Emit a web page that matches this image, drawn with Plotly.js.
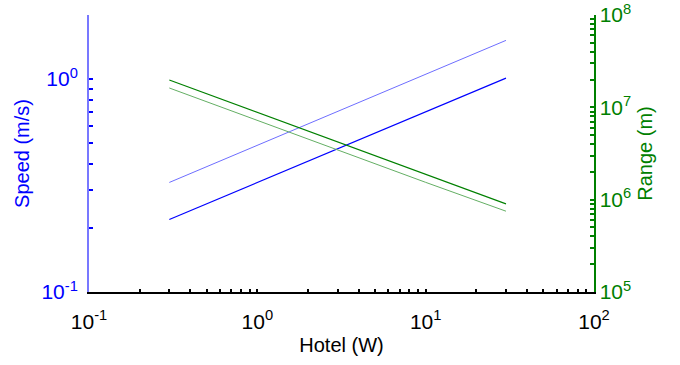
<!DOCTYPE html>
<html>
<head>
<meta charset="utf-8">
<script src="https://cdn.plot.ly/plotly-3.0.1.min.js"></script>
<style>
  html, body { margin: 0; padding: 0; background: #fff; }
  #chart { width: 680px; height: 365px; }
</style>
</head>
<body>
<div id="chart"></div>
<script>
// Data
var hotel = [0.3, 1, 3, 10, 30];                       // Hotel (W)
var speedUpper = [0.327, 0.489, 0.705, 1.05, 1.52];     // Speed (m/s), light blue
var speedLower = [0.219, 0.327, 0.471, 0.705, 1.01];    // Speed (m/s), dark blue
var rangeUpper = [1.98e7, 8.8e6, 4.2e6, 1.88e6, 9.0e5]; // Range (m), dark green
var rangeLower = [1.62e7, 7.2e6, 3.45e6, 1.54e6, 7.5e5];// Range (m), light green

// Tick values / labels
var xTickVals = [0.1,0.2,0.3,0.4,0.5,0.6,0.7,0.8,0.9,1,2,3,4,5,6,7,8,9,10,20,30,40,50,60,70,80,90,100];
var xTickText = ['10<sup>-1</sup>','','','','','','','','','10<sup>0</sup>','','','','','','','','','10<sup>1</sup>','','','','','','','','','10<sup>2</sup>'];
var ySpeedTickVals = [0.1,0.2,0.3,0.4,0.5,0.6,0.7,0.8,0.9,1,2];
var ySpeedTickText = ['10<sup>-1</sup>','','','','','','','','','10<sup>0</sup>',''];
var yRangeTickVals = [1e5,2e5,3e5,4e5,5e5,6e5,7e5,8e5,9e5,1e6,2e6,3e6,4e6,5e6,6e6,7e6,8e6,9e6,1e7,2e7,3e7,4e7,5e7,6e7,7e7,8e7,9e7,1e8];
var yRangeTickText = ['10<sup>5</sup>','','','','','','','','','10<sup>6</sup>','','','','','','','','','10<sup>7</sup>','','','','','','','','','10<sup>8</sup>'];

var BLUE = '#0000ff', LBLUE = 'rgb(110,110,255)';
var GREEN = 'rgb(0,128,0)', LGREEN = 'rgb(100,175,100)';
var FONT = 'Liberation Sans, Arial, sans-serif';
var FS = 21;

var traces = [
  {x: hotel, y: speedUpper, type: 'scatter', mode: 'lines', line: {color: LBLUE, width: 1}, yaxis: 'y', hoverinfo: 'none'},
  {x: hotel, y: speedLower, type: 'scatter', mode: 'lines', line: {color: BLUE, width: 1.2}, yaxis: 'y', hoverinfo: 'none'},
  {x: hotel, y: rangeUpper, type: 'scatter', mode: 'lines', line: {color: GREEN, width: 1.2}, yaxis: 'y2', hoverinfo: 'none'},
  {x: hotel, y: rangeLower, type: 'scatter', mode: 'lines', line: {color: LGREEN, width: 1}, yaxis: 'y2', hoverinfo: 'none'}
];

var layout = {
  width: 680, height: 365,
  margin: {l: 89, r: 86, t: 15, b: 73},
  paper_bgcolor: '#fff', plot_bgcolor: '#fff',
  showlegend: false,
  font: {family: FONT, size: FS, color: '#000'},
  xaxis: {
    type: 'log', range: [-1, 2],
    tickmode: 'array', tickvals: xTickVals, ticktext: xTickText,
    ticks: 'inside', ticklen: 3, tickwidth: 2, tickcolor: '#000',
    showline: true, linecolor: '#000', linewidth: 1.5,
    showgrid: false, zeroline: false,
    ticklabelstandoff: 10,
    tickfont: {family: FONT, size: FS, color: '#000'},
    title: {text: 'Hotel (W)', font: {family: FONT, size: 20, color: '#000'}, standoff: 6}
  },
  yaxis: {
    type: 'log', range: [-1, Math.log10(2)],
    tickmode: 'array', tickvals: ySpeedTickVals, ticktext: ySpeedTickText,
    ticks: 'inside', ticklen: 4, tickwidth: 2, tickcolor: BLUE,
    showline: true, linecolor: 'rgb(120,120,255)', linewidth: 2,
    showgrid: false, zeroline: false,
    ticklabelstandoff: 5,
    tickfont: {family: FONT, size: FS, color: BLUE},
    title: {text: 'Speed (m/s)', font: {family: FONT, size: 20, color: BLUE}, standoff: 6}
  },
  yaxis2: {
    type: 'log', range: [5, 8], overlaying: 'y', side: 'right', anchor: 'x',
    tickmode: 'array', tickvals: yRangeTickVals, ticktext: yRangeTickText,
    ticks: 'inside', ticklen: 4, tickwidth: 2, tickcolor: GREEN,
    showline: true, linecolor: GREEN, linewidth: 1.5,
    showgrid: false, zeroline: false,
    tickfont: {family: FONT, size: FS, color: GREEN},
    title: {text: 'Range (m)', font: {family: FONT, size: 20, color: GREEN}, standoff: 8}
  }
};

Plotly.newPlot('chart', traces, layout, {displayModeBar: false, staticPlot: true});
</script>
</body>
</html>
